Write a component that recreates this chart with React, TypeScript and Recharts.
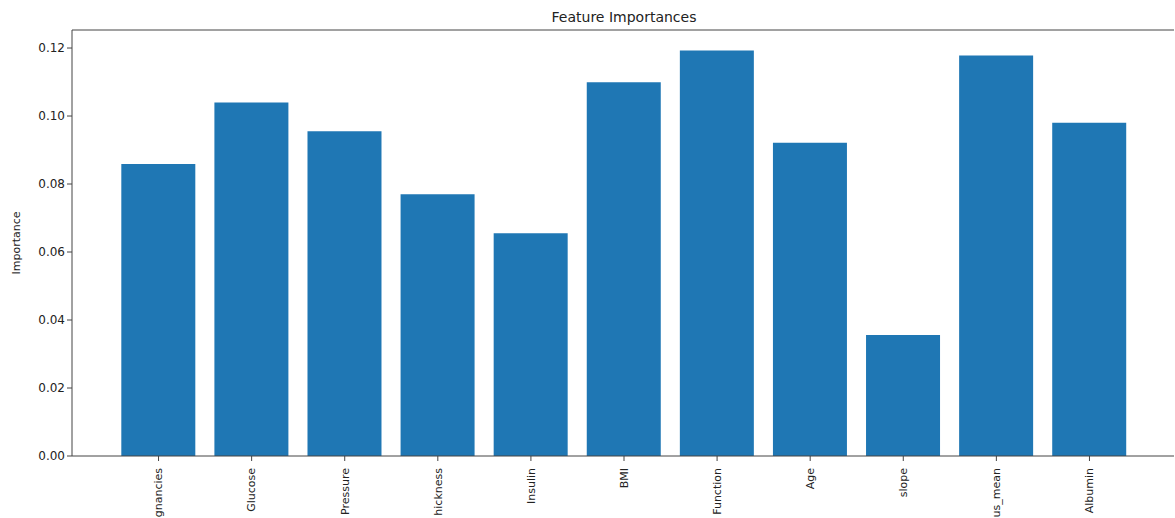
import { BarChart, Bar, XAxis, YAxis, ReferenceLine, Label } from "recharts";

// feature names as they show (clipped) under the axis
const features = [
  "gnancies",
  "Glucose",
  "Pressure",
  "hickness",
  "Insulin",
  "BMI",
  "Function",
  "Age",
  "slope",
  "us_mean",
  "Albumin",
];
const importances = [0.0859, 0.104, 0.0955, 0.077, 0.0655, 0.1099, 0.1193, 0.0921, 0.0356, 0.1178, 0.098];
const yTicks = [0, 0.02, 0.04, 0.06, 0.08, 0.1, 0.12];
const yMax = 0.1253;

const data = features.map((name, i) => ({ name, value: importances[i] }));

const font = "'DejaVu Sans', sans-serif";

const RotatedTick = (props: any) => {
  const { x, y, payload } = props;
  return (
    <text
      transform={`translate(${x},${y + 5}) rotate(-90)`}
      textAnchor="end"
      dy="0.35em"
      fontSize={11}
      fontFamily={font}
      fill="#222"
    >
      {payload.value}
    </text>
  );
};

export default function App() {
  return (
    <div
      style={{
        position: "absolute",
        left: 0,
        top: 0,
        width: 1175,
        height: 518,
        overflow: "hidden",
        background: "#fff",
      }}
    >
      <div
        style={{
          position: "absolute",
          top: 9,
          left: 72,
          width: 1104,
          textAlign: "center",
          fontFamily: font,
          fontSize: 14,
          color: "#222",
        }}
      >
        Feature Importances
      </div>
      <BarChart
        width={1175}
        height={518}
        data={data}
        margin={{ top: 30, right: 1, bottom: 0, left: 0 }}
        barCategoryGap="10%"
      >
        <XAxis
          dataKey="name"
          height={62}
          padding={{ left: 40, right: 38 }}
          interval={0}
          tick={<RotatedTick />}
          tickSize={5}
          axisLine={{ stroke: "#444" }}
          tickLine={{ stroke: "#444" }}
        />
        <YAxis
          width={72}
          domain={[0, yMax]}
          ticks={yTicks}
          tickFormatter={(v: number) => v.toFixed(2)}
          tickSize={5}
          tick={{ fontSize: 12, fontFamily: font, fill: "#222" }}
          axisLine={{ stroke: "#444" }}
          tickLine={{ stroke: "#444" }}
        >
          <Label
            value="Importance"
            angle={-90}
            position="insideLeft"
            offset={16}
            style={{ fontSize: 11, fontFamily: font, fill: "#222", textAnchor: "middle" }}
          />
        </YAxis>
        <YAxis
          yAxisId="right"
          orientation="right"
          width={0}
          domain={[0, yMax]}
          tick={false}
          tickLine={false}
          axisLine={{ stroke: "#444" }}
        />
        <ReferenceLine y={yMax} stroke="#444" />
        <Bar dataKey="value" fill="#1f77b4" isAnimationActive={false} />
      </BarChart>
    </div>
  );
}
